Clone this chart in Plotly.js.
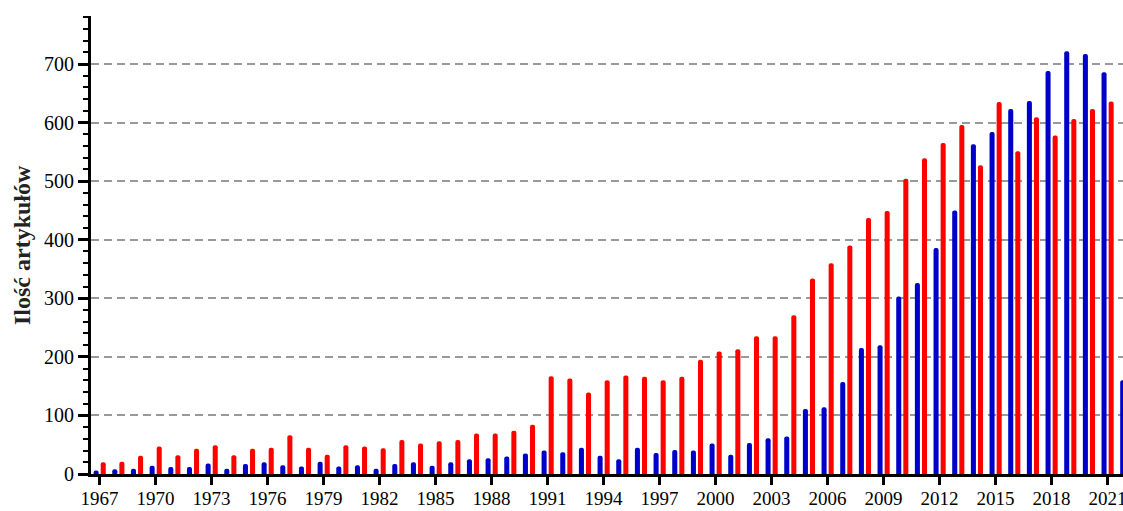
<!DOCTYPE html>
<html>
<head>
<meta charset="utf-8">
<script src="https://cdn.plot.ly/plotly-3.0.1.min.js"></script>
<style>
html,body{margin:0;padding:0;background:#fff;}
#chart{width:1123px;height:511px;}
</style>
</head>
<body>
<div id="chart"></div>
<script>
const years = [1967,1968,1969,1970,1971,1972,1973,1974,1975,1976,1977,1978,1979,1980,1981,1982,1983,1984,1985,1986,1987,1988,1989,1990,1991,1992,1993,1994,1995,1996,1997,1998,1999,2000,2001,2002,2003,2004,2005,2006,2007,2008,2009,2010,2011,2012,2013,2014,2015,2016,2017,2018,2019,2020,2021,2022];
const blueValues = [6,8,9,14,12,12,18,9,17,20,15,13,21,13,15,9,17,20,14,20,25,27,30,35,40,37,45,31,25,45,36,41,40,52,33,53,61,64,111,114,157,215,220,303,326,386,450,563,584,623,637,688,722,717,686,160];
const redValues = [20,21,31,47,32,43,49,32,43,45,66,45,33,49,47,44,58,52,56,58,69,69,74,84,167,163,139,160,168,166,160,166,195,209,213,235,235,271,334,360,390,437,449,504,539,565,596,527,635,551,609,578,606,623,636,null];
const xTickVals = [1967,1970,1973,1976,1979,1982,1985,1988,1991,1994,1997,2000,2003,2006,2009,2012,2015,2018,2021];
const yTickVals = [0,100,200,300,400,500,600,700];
const yTitle = 'Ilość artykułów';

const font = 'Liberation Serif, Times New Roman, serif';

const traces = [
  {type:'bar', x:years, y:blueValues, width:0.27, offset:-0.32,
   marker:{color:'#0000c8', line:{width:0}}, showlegend:false, hoverinfo:'x+y'},
  {type:'bar', x:years, y:redValues, width:0.27, offset:0.06,
   marker:{color:'#ff0000', line:{width:0}}, showlegend:false, hoverinfo:'x+y'}
];

const layout = {
  width:1123, height:511,
  margin:{l:91, r:0, t:16, b:37, pad:0},
  paper_bgcolor:'#ffffff', plot_bgcolor:'#ffffff',
  barmode:'overlay',
  barcornerradius:2,
  font:{family:font, size:19, color:'#000'},
  xaxis:{
    range:[1966.54, 2021.83],
    tickmode:'array', tickvals:xTickVals,
    ticks:'outside', ticklen:8, tickwidth:3, tickcolor:'#000',
    showline:true, linewidth:3, linecolor:'#000',
    showgrid:false, zeroline:false,
    ticklabeloverflow:'allow',
    ticklabelstandoff:-3,
    tickfont:{family:font, size:19, color:'#000'}
  },
  yaxis:{
    range:[0, 782],
    tickmode:'array', tickvals:yTickVals,
    ticks:'outside', ticklen:10, tickwidth:3, tickcolor:'#000',
    minor:{dtick:20, tick0:0, ticks:'outside', ticklen:5, tickwidth:2, tickcolor:'#000', showgrid:false},
    showline:true, linewidth:3, linecolor:'#000',
    showgrid:true, gridcolor:'#999999', gridwidth:2, griddash:'8px,5px',
    zeroline:false,
    tickfont:{family:font, size:20, color:'#000'}
  },
  annotations:[{
    text:'<b>'+yTitle+'</b>', textangle:-90,
    xref:'paper', yref:'paper', x:0, y:0.5, xanchor:'center', yanchor:'middle',
    xshift:-69, showarrow:false,
    font:{family:font, size:24, color:'#222'}
  }]
};

Plotly.newPlot('chart', traces, layout, {staticPlot:true, displayModeBar:false});
</script>
</body>
</html>
